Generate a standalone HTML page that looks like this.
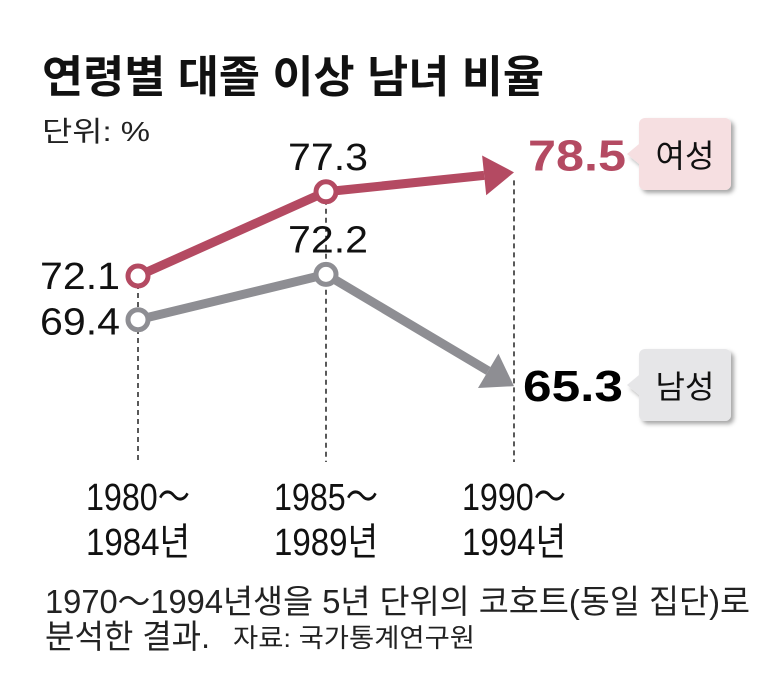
<!DOCTYPE html>
<html><head><meta charset="utf-8"><style>
html,body{margin:0;padding:0;background:#fff}
svg{display:block}
text{font-family:"Liberation Sans","Noto Sans CJK KR",sans-serif}
</style></head><body>
<svg id="chart" width="780" height="688" viewBox="0 0 780 688">
<defs>
<filter id="sh" x="-20%" y="-20%" width="150%" height="150%"><feDropShadow dx="3" dy="3" stdDeviation="2" flood-color="#000" flood-opacity="0.35"/></filter>
</defs>
<text x="42" y="92" font-size="44" font-weight="bold" fill="#111" textLength="502" lengthAdjust="spacingAndGlyphs">연령별 대졸 이상 남녀 비율</text>
<text x="42" y="141" font-size="28" fill="#222" textLength="108" lengthAdjust="spacingAndGlyphs">단위: %</text>
<g id="grid"></g>
<g id="series"></g>
<g id="labels"></g>
<g>
<path d="M645 118 h80 a6 6 0 0 1 6 6 v60 a6 6 0 0 1 -6 6 h-80 a6 6 0 0 1 -6 -6 v-20 l-12 -10 l12 -10 v-20 a6 6 0 0 1 6 -6z" fill="#f6dfe1" filter="url(#sh)"/>
<text x="685" y="167" font-size="32" text-anchor="middle" fill="#111">여성</text>
</g>
<g>
<path d="M645 349 h80 a6 6 0 0 1 6 6 v60 a6 6 0 0 1 -6 6 h-80 a6 6 0 0 1 -6 -6 v-20 l-12 -10 l12 -10 v-20 a6 6 0 0 1 6 -6z" fill="#e6e6e8" filter="url(#sh)"/>
<text x="685" y="398" font-size="32" text-anchor="middle" fill="#111">남성</text>
</g>
<text x="45" y="613" font-size="33" fill="#222" textLength="705" lengthAdjust="spacingAndGlyphs">1970～1994년생을 5년 단위의 코호트(동일 집단)로</text>
<text x="45" y="648" font-size="33" fill="#222" textLength="165" lengthAdjust="spacingAndGlyphs">분석한 결과.</text>
<text x="233" y="647" font-size="26" fill="#222" textLength="242" lengthAdjust="spacingAndGlyphs">자료: 국가통계연구원</text>
</svg>
<script>
const categoriesTop = ["1980～","1985～","1990～"];
const categoriesBottom = ["1984년","1989년","1994년"];
const femaleValues = [72.1, 77.3, 78.5];
const maleValues = [69.4, 72.2, 65.3];
const femaleLabels = ["72.1","77.3","78.5"];
const maleLabels = ["69.4","72.2","65.3"];

const NS = "http://www.w3.org/2000/svg";
const xs = i => 138 + i * 188;
const ys = v => 276 - (v - 72.1) * 16.2;
function mk(tag, attrs, parent){const e=document.createElementNS(NS,tag);for(const k in attrs)e.setAttribute(k,attrs[k]);parent.appendChild(e);return e;}
const grid=document.getElementById('grid'), series=document.getElementById('series'), labels=document.getElementById('labels');

categoriesTop.forEach((c,i)=>{
  const top = Math.min(ys(femaleValues[i]), ys(maleValues[i]));
  const l = mk('line',{x1:xs(i),x2:xs(i),y1:top+8,y2:462,stroke:'#222','stroke-width':1.5,'stroke-dasharray':'5,4'},grid);
  
  
  const t1 = mk('text',{x:xs(i)-52,y:510,'font-size':38,fill:'#111',textLength:104,lengthAdjust:'spacingAndGlyphs'},labels);
  t1.textContent=c;
  
  
  const t2 = mk('text',{x:xs(i)-52,y:555,'font-size':38,fill:'#111',textLength:104,lengthAdjust:'spacingAndGlyphs'},labels);
  t2.textContent=categoriesBottom[i];
  
  
});

function drawSeries(vals, color, name){
  const n=vals.length;
  const px=vals.map((v,i)=>xs(i)), py=vals.map(v=>ys(v));
  const dx=px[n-1]-px[n-2], dy=py[n-1]-py[n-2], len=Math.hypot(dx,dy), ux=dx/len, uy=dy/len;
  const ah=30, aw=20;
  const bx=px[n-1]-ux*ah, by=py[n-1]-uy*ah;
  let d='M'+px[0]+' '+py[0];
  for(let i=1;i<n-1;i++) d+=' L'+px[i]+' '+py[i];
  d+=' L'+bx+' '+by;
  const p=mk('path',{d:d,fill:'none',stroke:color,'stroke-width':9,'stroke-linejoin':'round'},series);
  
  
  const a=mk('polygon',{points:`${px[n-1]},${py[n-1]} ${bx-uy*aw},${by+ux*aw} ${bx+uy*aw},${by-ux*aw}`,fill:color},series);
  
  
  for(let i=0;i<n-1;i++){
    const c=mk('circle',{cx:px[i],cy:py[i],r:10,fill:'#fff',stroke:color,'stroke-width':5},series);
    
    
  }
}
drawSeries(maleValues,'#8e8e93','male');
drawSeries(femaleValues,'#b44a62','female');

function valLabel(txt,x,y,opts,name){
  const t=mk('text',Object.assign({x:x,y:y,'font-size':38,fill:'#111'},opts),labels);
  t.textContent=txt;
  
  
}
valLabel(femaleLabels[0],40,ys(femaleValues[0])+13,{textLength:80,lengthAdjust:'spacingAndGlyphs'},'female-value-label');
valLabel(femaleLabels[1],xs(1)-38,ys(femaleValues[1])-22,{textLength:80,lengthAdjust:'spacingAndGlyphs'},'female-value-label');
valLabel(femaleLabels[2],528,ys(femaleValues[2])-2,{'font-size':44,'font-weight':'bold',fill:'#b44a62',textLength:98,lengthAdjust:'spacingAndGlyphs'},'female-value-label');
valLabel(maleLabels[0],40,ys(maleValues[0])+15,{textLength:80,lengthAdjust:'spacingAndGlyphs'},'male-value-label');
valLabel(maleLabels[1],xs(1)-38,ys(maleValues[1])-22,{textLength:80,lengthAdjust:'spacingAndGlyphs'},'male-value-label');
valLabel(maleLabels[2],523,ys(maleValues[2])+15,{'font-size':44,'font-weight':'bold',fill:'#000',textLength:100,lengthAdjust:'spacingAndGlyphs'},'male-value-label');
</script>
</body></html>
